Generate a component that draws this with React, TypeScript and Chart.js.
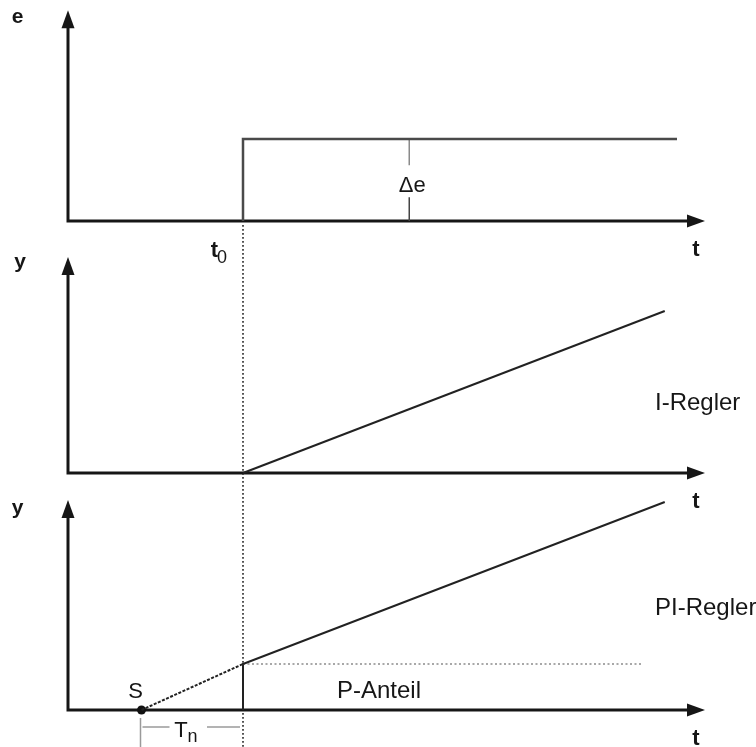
import React, { useEffect, useRef } from "react";
import { Chart, registerables } from "chart.js";

Chart.register(...registerables);

// ---------- data (time in arbitrary units, t0 = 5) ----------
const T0 = 5;
const T_AXIS_END = 18.2;

// control error e: step of height Δe at t0
const eTimes = [T0, T0, 17.4];
const eValues = [0, 1, 1];
const DELTA_E = 1;
const DELTA_E_MARK_T = 9.75;
const E_AXIS_TOP = 2.57;

// I-Regler: ramp starting at t0
const iTimes = [T0, 17.05];
const iValues = [0, 2.0];
const I_AXIS_TOP = 2.667;

// PI-Regler: jump (P-Anteil) at t0 then ramp, extrapolated back to S
const S_TIME = 2.1;
const P_PART = 0.575;
const piExtTimes = [S_TIME, T0];
const piExtValues = [0, P_PART];
const piTimes = [T0, T0, 17.05];
const piValues = [0, P_PART, 2.6];
const pDotTimes = [T0, 16.4];
const pDotValues = [P_PART, P_PART];
const PI_AXIS_TOP = 2.625;

// ---------- layout ----------
const W = 756;
const H = 747;
const ORIGIN_X = 68;
const PX_PER_T = 35;
const PANELS = [
  { id: "yE", base: 221, k: 82, top: E_AXIS_TOP, label: "e" },
  { id: "yI", base: 473, k: 81, top: I_AXIS_TOP, label: "y" },
  { id: "yPI", base: 710, k: 80, top: PI_AXIS_TOP, label: "y" },
];

const FONT = '"Liberation Sans", Arial, Helvetica, sans-serif';
const INK = "#161616";

const pts = (xs: number[], ys: number[]) => xs.map((x, i) => ({ x, y: ys[i] }));

const diagramPlugin = {
  id: "diagram",
  beforeDatasetsDraw(chart: any) {
    const ctx = chart.ctx as CanvasRenderingContext2D;
    const sx = chart.scales.x;
    const x0 = sx.getPixelForValue(T0);
    const xa = sx.getPixelForValue(0);
    const xtip = sx.getPixelForValue(T_AXIS_END);
    ctx.save();
    // dotted t0 guide across all panels
    ctx.strokeStyle = "#2a2a2a";
    ctx.lineWidth = 1.6;
    ctx.setLineDash([1.8, 2.2]);
    ctx.beginPath();
    ctx.moveTo(x0, chart.scales.yE.getPixelForValue(0) + 4);
    ctx.lineTo(x0, chart.height);
    ctx.stroke();
    ctx.setLineDash([]);

    // axes with arrows
    ctx.strokeStyle = INK;
    ctx.fillStyle = INK;
    for (const p of PANELS) {
      const sy = chart.scales[p.id];
      const yb = sy.getPixelForValue(0);
      const ytip = sy.getPixelForValue(p.top);
      ctx.lineWidth = 3;
      ctx.beginPath();
      ctx.moveTo(xa, yb + 1.5);
      ctx.lineTo(xa, ytip + 14);
      ctx.moveTo(xa - 1.5, yb);
      ctx.lineTo(xtip - 14, yb);
      ctx.stroke();
      ctx.beginPath();
      ctx.moveTo(xa, ytip);
      ctx.lineTo(xa - 6.5, ytip + 18);
      ctx.lineTo(xa + 6.5, ytip + 18);
      ctx.closePath();
      ctx.fill();
      ctx.beginPath();
      ctx.moveTo(xtip, yb);
      ctx.lineTo(xtip - 18, yb - 6.5);
      ctx.lineTo(xtip - 18, yb + 6.5);
      ctx.closePath();
      ctx.fill();
    }

    // Δe marker
    const sE = chart.scales.yE;
    const xm = sx.getPixelForValue(DELTA_E_MARK_T);
    ctx.lineWidth = 1.5;
    ctx.strokeStyle = "#8a8a8a";
    ctx.beginPath();
    ctx.moveTo(xm, sE.getPixelForValue(DELTA_E));
    ctx.lineTo(xm, sE.getPixelForValue(DELTA_E * 0.68));
    ctx.stroke();
    ctx.strokeStyle = "#444";
    ctx.beginPath();
    ctx.moveTo(xm, sE.getPixelForValue(DELTA_E * 0.29));
    ctx.lineTo(xm, sE.getPixelForValue(0));
    ctx.stroke();

    // Tn dimension
    const sP = chart.scales.yPI;
    const ybP = sP.getPixelForValue(0);
    const xs = sx.getPixelForValue(S_TIME);
    const yd = ybP + 17;
    ctx.strokeStyle = "#9a9a9a";
    ctx.lineWidth = 1.5;
    ctx.beginPath();
    ctx.moveTo(xs - 1, ybP + 8);
    ctx.lineTo(xs - 1, chart.height);
    ctx.moveTo(xs + 1, yd);
    ctx.lineTo(xs + 28, yd);
    ctx.moveTo(x0 - 36, yd);
    ctx.lineTo(x0 - 3, yd);
    ctx.stroke();
    ctx.restore();
  },
  afterDatasetsDraw(chart: any) {
    const ctx = chart.ctx as CanvasRenderingContext2D;
    const sx = chart.scales.x;
    const x0 = sx.getPixelForValue(T0);
    const xa = sx.getPixelForValue(0);
    const xtip = sx.getPixelForValue(T_AXIS_END);
    ctx.save();
    ctx.fillStyle = INK;
    ctx.textBaseline = "alphabetic";
    ctx.textAlign = "center";

    // axis letters
    const axisLabelBase = [13, 11.5, 13.5];
    const axisLabelX = [17.5, 20, 17.5];
    PANELS.forEach((p, i) => {
      const sy = chart.scales[p.id];
      const yb = sy.getPixelForValue(0);
      const ytip = sy.getPixelForValue(p.top);
      ctx.font = `bold 21px ${FONT}`;
      ctx.fillText(p.label, xa - (ORIGIN_X - axisLabelX[i]), ytip + axisLabelBase[i]);
      ctx.font = `bold 22px ${FONT}`;
      ctx.fillText("t", xtip - 9, yb + 35);
    });

    // t0
    const ybE = chart.scales.yE.getPixelForValue(0);
    ctx.textAlign = "right";
    ctx.font = `bold 22px ${FONT}`;
    ctx.fillText("t", x0 - 25, ybE + 36);
    ctx.textAlign = "left";
    ctx.font = `18px ${FONT}`;
    ctx.fillText("0", x0 - 26, ybE + 42);

    // Δe
    const sE = chart.scales.yE;
    ctx.textAlign = "center";
    ctx.textBaseline = "middle";
    ctx.font = `22px ${FONT}`;
    ctx.fillText("\u0394e", sx.getPixelForValue(DELTA_E_MARK_T) + 3, sE.getPixelForValue(DELTA_E * 0.43));

    // controller names
    ctx.textBaseline = "alphabetic";
    ctx.textAlign = "left";
    ctx.font = `24px ${FONT}`;
    const sI = chart.scales.yI;
    const sP = chart.scales.yPI;
    ctx.fillText("I-Regler", 655, sI.getPixelForValue(0) - 63);
    ctx.fillText("PI-Regler", 655, sP.getPixelForValue(0) - 95);
    ctx.fillText("P-Anteil", 337, sP.getPixelForValue(0) - 12);

    // S and Tn
    const xs = sx.getPixelForValue(S_TIME);
    const ybP = sP.getPixelForValue(0);
    ctx.textAlign = "center";
    ctx.font = `22px ${FONT}`;
    ctx.fillText("S", xs - 6, ybP - 12);
    ctx.fillText("T", xs + 39.5, ybP + 27);
    ctx.textAlign = "left";
    ctx.font = `18px ${FONT}`;
    ctx.fillText("n", xs + 46, ybP + 32);
    ctx.restore();
  },
};

export default function App() {
  const canvasRef = useRef<HTMLCanvasElement | null>(null);

  useEffect(() => {
    if (!canvasRef.current) return;
    const lineStyle = {
      showLine: true,
      pointRadius: 0,
      borderWidth: 2,
      fill: false,
      tension: 0,
    };
    const yScales: any = {};
    for (const p of PANELS) {
      yScales[p.id] = {
        type: "linear",
        display: false,
        min: -(H - p.base) / p.k,
        max: p.base / p.k,
      };
    }
    const chart = new Chart(canvasRef.current, {
      type: "scatter",
      data: {
        datasets: [
          { ...lineStyle, data: pts(eTimes, eValues), yAxisID: "yE", borderColor: "#4a4a4a", borderWidth: 2.5 },
          { ...lineStyle, data: pts(iTimes, iValues), yAxisID: "yI", borderColor: "#222" },
          { ...lineStyle, data: pts(piExtTimes, piExtValues), yAxisID: "yPI", borderColor: "#222", borderDash: [3, 1.5] },
          { ...lineStyle, data: pts(piTimes, piValues), yAxisID: "yPI", borderColor: "#222" },
          { ...lineStyle, data: pts(pDotTimes, pDotValues), yAxisID: "yPI", borderColor: "#a8a8a8", borderDash: [2, 2.5] },
          {
            data: [{ x: S_TIME, y: 0 }],
            yAxisID: "yPI",
            showLine: false,
            pointRadius: 4.5,
            pointBackgroundColor: "#111",
            pointBorderColor: "#111",
            pointBorderWidth: 0,
          },
        ] as any,
      },
      options: {
        responsive: false,
        animation: false,
        events: [],
        layout: { padding: 0, autoPadding: false },
        scales: {
          x: {
            type: "linear",
            display: false,
            min: -ORIGIN_X / PX_PER_T,
            max: (W - ORIGIN_X) / PX_PER_T,
          },
          ...yScales,
        },
        plugins: {
          legend: { display: false },
          tooltip: { enabled: false },
          title: { display: false },
        },
      } as any,
      plugins: [diagramPlugin],
    });
    return () => chart.destroy();
  }, []);

  return (
    <div style={{ position: "fixed", left: 0, top: 0, width: W, height: H, background: "#fff" }}>
      <canvas ref={canvasRef} width={W} height={H} style={{ display: "block" }} />
    </div>
  );
}
